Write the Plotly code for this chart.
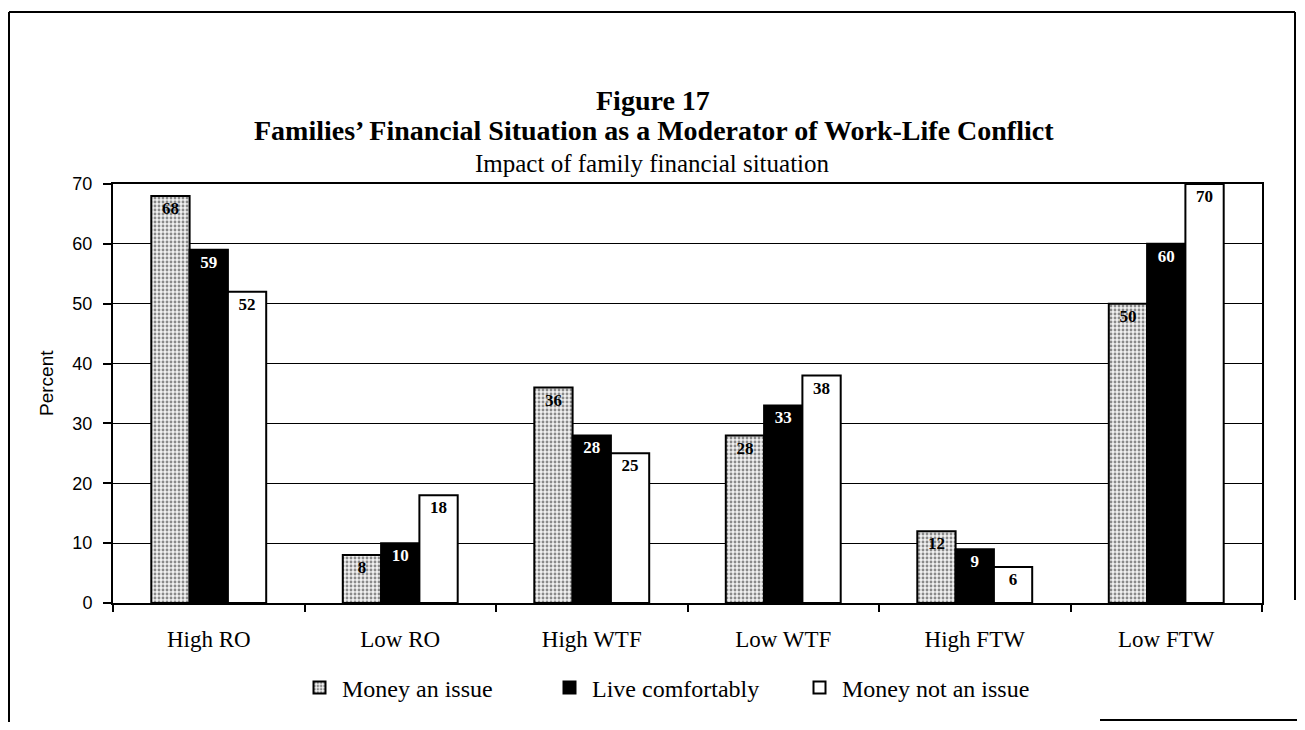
import plotly.graph_objects as go

categories = ["High RO", "Low RO", "High WTF", "Low WTF", "High FTW", "Low FTW"]
money_issue = [68, 8, 36, 28, 12, 50]
live_comfortably = [59, 10, 28, 33, 9, 60]
money_not_issue = [52, 18, 25, 38, 6, 70]
y_ticks = [0, 10, 20, 30, 40, 50, 60, 70]

serif = "Liberation Serif"
sans = "Liberation Sans"

fig = go.Figure()
fig.add_trace(go.Bar(
    x=categories, y=money_issue, name="Money an issue",
    text=[str(v) for v in money_issue], textposition="inside", insidetextanchor="end",
    textfont=dict(family=serif, size=18, color="black", weight="bold"),
    marker=dict(color="white", line=dict(color="black", width=2),
                pattern=dict(shape=".", fgcolor="#222", bgcolor="#f0f0f0", size=4, solidity=0.4)),
    cliponaxis=False,
))
fig.add_trace(go.Bar(
    x=categories, y=live_comfortably, name="Live comfortably",
    text=[str(v) for v in live_comfortably], textposition="inside", insidetextanchor="end",
    textfont=dict(family=serif, size=17, color="white", weight="bold"),
    marker=dict(color="black", line=dict(color="black", width=2)),
    cliponaxis=False,
))
fig.add_trace(go.Bar(
    x=categories, y=money_not_issue, name="Money not an issue",
    text=[str(v) for v in money_not_issue], textposition="inside", insidetextanchor="end",
    textfont=dict(family=serif, size=18, color="black", weight="bold"),
    marker=dict(color="white", line=dict(color="black", width=2)),
    cliponaxis=False,
))

# page offset of 8px (body margin) is compensated here; figure sized to fit the window
OFF = 8
W, H = 1305 - 2 * OFF, 730 - 2 * OFF
L, R, T, B = 113 - OFF, (W + OFF) - 1262, 184 - OFF, 730 - OFF - 603
pw, ph = W - L - R, H - T - B

def px(xp):
    return (xp - OFF - L) / pw

def py(yp):
    return (H - B - (yp - OFF)) / ph

fig.update_layout(
    width=W, height=H,
    margin=dict(l=L, r=R, t=T, b=B, pad=0),
    paper_bgcolor="white", plot_bgcolor="white",
    barmode="group", bargap=0.4, bargroupgap=0,
    uniformtext=dict(mode="show", minsize=10),
    showlegend=True,
    legend=dict(orientation="h", x=px(297), xanchor="left", y=py(688), yanchor="middle",
                font=dict(family=serif, size=24, color="black"),
                traceorder="normal", itemwidth=35, entrywidth=200,
                bgcolor="rgba(0,0,0,0)"),
    font=dict(family=serif, color="black"),
)
fig.update_xaxes(
    showline=True, linecolor="black", linewidth=2, mirror=True,
    ticks="outside", tickson="boundaries", ticklen=7, tickcolor="black", tickwidth=1.5,
    tickfont=dict(family=serif, size=23, color="black"), ticklabelstandoff=14,
    showgrid=False,
)
fig.update_yaxes(
    range=[0, 70], tickvals=y_ticks,
    showline=True, linecolor="black", linewidth=2, mirror=True,
    ticks="outside", ticklen=8, tickcolor="black", tickwidth=1.5,
    tickfont=dict(family=sans, size=18, color="black"), ticklabelstandoff=7,
    showgrid=True, gridcolor="black", gridwidth=1.2,
    zeroline=False,
)

ann = dict(xref="paper", yref="paper", showarrow=False, xanchor="center", yanchor="middle")
fig.add_annotation(**ann, text="Percent", textangle=-90, x=px(46), y=py(383),
                   font=dict(family=sans, size=19, color="black"))
fig.add_annotation(**ann, text="<b>Figure 17</b>", x=px(653), y=py(100),
                   font=dict(family=serif, size=28, color="black"))
fig.add_annotation(**ann, text="<b>Families\u2019 Financial Situation as a Moderator of Work-Life Conflict</b>",
                   x=px(654), y=py(131),
                   font=dict(family=serif, size=28, color="black"))
fig.add_annotation(**ann, text="Impact of family financial situation", x=px(652), y=py(164),
                   font=dict(family=serif, size=25, color="black"))

# scanned page frame
frame = dict(type="line", xref="paper", yref="paper", line=dict(color="black", width=2))
fig.add_shape(**frame, x0=px(9), x1=px(9), y0=py(12), y1=py(722))
fig.add_shape(**frame, x0=px(9), x1=px(1295), y0=py(12), y1=py(12))
fig.add_shape(**frame, x0=px(1295), x1=px(1295), y0=py(12), y1=py(600))
fig.add_shape(**frame, x0=px(1100), x1=px(1297), y0=py(720), y1=py(720))

fig.write_html("out.html")
